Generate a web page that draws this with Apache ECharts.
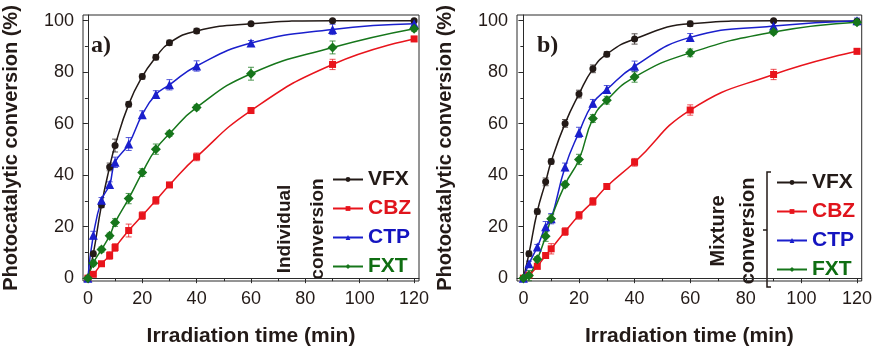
<!DOCTYPE html>
<html><head><meta charset="utf-8">
<script src="https://cdn.jsdelivr.net/npm/echarts@6/dist/echarts.min.js"></script>
<style>html,body{margin:0;padding:0;background:#fff}#c{width:875px;height:352px}</style>
</head><body><div id="c"></div>
<script>
const times = [0, 2, 5, 8, 10, 15, 20, 25, 30, 40, 60, 90, 120];
const xMajorTicks = [0, 20, 40, 60, 80, 100, 120];
const xMinorTicks = [10, 30, 50, 70, 90, 110];
const yMajorTicks = [0, 20, 40, 60, 80, 100];
const yMinorTicks = [10, 30, 50, 70, 90];
const names = ['VFX', 'CBZ', 'CTP', 'FXT'];

// Panel a) individual conversion
const vfxA = [0, 9.5, 28.4, 43.2, 51.5, 67.5, 78.3, 85.8, 91.4, 96.0, 98.8, 100, 100];
const cbzA = [0, 1.5, 5.6, 8.8, 11.9, 18.5, 24.3, 30.2, 36.2, 47.1, 65.1, 83.0, 92.9];
const ctpA = [0, 16.7, 30.3, 36.4, 45.0, 52.1, 63.5, 71.3, 75.1, 82.4, 91.3, 96.6, 98.8];
const fxtA = [0, 5.8, 11.1, 16.5, 21.6, 30.9, 41.0, 50.1, 56.1, 66.3, 79.4, 89.6, 96.9];
const vfxAErr = [0, 1, 1, 1.5, 2.5, 1, 1, 1, 1, 1, 0.5, 0.5, 0.5];
const cbzAErr = [0, 0.5, 0.5, 1.5, 1.5, 2.5, 1.5, 1.5, 1, 1.5, 1, 2, 1];
const ctpAErr = [0, 1.5, 1, 1, 2, 2.5, 1.5, 1.5, 2, 2, 1, 2, 1];
const fxtAErr = [0, 1, 1, 1, 1.5, 2, 1.5, 2, 1, 1, 2.5, 2.5, 1];

// Panel b) mixture conversion
const vfxB = [0, 9.5, 25.9, 37.4, 45.3, 60.1, 71.5, 81.3, 87.0, 92.9, 98.8, 100, 99.8];
const cbzB = [0, 1.2, 4.6, 8.8, 11.4, 18.1, 24.4, 29.8, 35.6, 45.0, 65.3, 79.1, 88.1];
const ctpB = [0, 5.6, 12.1, 20.0, 23.1, 43.2, 56.6, 67.9, 73.3, 82.3, 93.5, 97.9, 100];
const fxtB = [0, 1.0, 7.3, 16.3, 23.1, 36.4, 46.1, 62.0, 69.1, 78.1, 87.5, 95.6, 99.4];
const vfxBErr = [0, 1, 1, 1.5, 1, 1.5, 1.5, 1.5, 1, 2, 1, 0.5, 0.5];
const cbzBErr = [0, 1, 1, 1, 2, 1.5, 1.5, 1.5, 1, 1.5, 2, 2, 1];
const ctpBErr = [0, 1, 1, 2, 2, 1.5, 2, 1.5, 1.5, 2, 1.5, 1.5, 1];
const fxtBErr = [0, 2, 1, 2, 1.5, 1, 2, 1.5, 1.5, 2, 1.5, 1, 1];

const colors = {VFX: '#231a17', CBZ: '#e8141c', CTP: '#1a1fcc', FXT: '#16761b'};
const textColors = {VFX: '#231a17', CBZ: '#e0141c', CTP: '#1414c0', FXT: '#0f6e12'};
const symbols = {VFX: 'circle', CBZ: 'rect', CTP: 'triangle', FXT: 'diamond'};
const symSizes = {VFX: 7, CBZ: 7, CTP: 9, FXT: 10};

const tickFont = '"Liberation Sans Narrow", "Arial Narrow", "Liberation Sans", Arial, sans-serif';
const boldFont = '"Liberation Sans", Arial, sans-serif';

const panels = [
  {vals: [vfxA, cbzA, ctpA, fxtA], errs: [vfxAErr, cbzAErr, ctpAErr, fxtAErr], left: 76, width: 343, min: -1.8, max: 121.8},
  {vals: [vfxB, cbzB, ctpB, fxtB], errs: [vfxBErr, cbzBErr, ctpBErr, fxtBErr], left: 517, width: 345, min: -2.3, max: 121.7}
];

const grid = [], xAxis = [], yAxis = [], series = [];
panels.forEach((p, pi) => {
  grid.push({left: p.left, top: 15, width: p.width, height: 276, show: true, borderColor: '#2a2a2a', borderWidth: 1, backgroundColor: 'transparent'});
  xAxis.push({
    type: 'value', gridIndex: pi, min: p.min, max: p.max, position: 'bottom',
    name: 'Irradiation time (min)', nameLocation: 'middle', nameGap: 45,
    nameTextStyle: {fontFamily: boldFont, fontWeight: 'bold', fontSize: 21, color: '#231a17'},
    axisLine: {show: true, lineStyle: {color: '#2a2a2a', width: 1}},
    axisTick: {show: true, inside: false, length: 5, customValues: xMajorTicks, lineStyle: {color: '#2a2a2a'}},
    axisLabel: {show: true, customValues: xMajorTicks, margin: 9, fontFamily: tickFont, fontSize: 18, color: '#231a17'},
    splitLine: {show: false}
  });
  xAxis.push({
    type: 'value', gridIndex: pi, min: p.min, max: p.max, position: 'bottom',
    axisLine: {show: false},
    axisTick: {show: true, inside: false, length: 3, customValues: xMinorTicks, lineStyle: {color: '#2a2a2a'}},
    axisLabel: {show: false}, splitLine: {show: false}
  });
  yAxis.push({
    type: 'value', gridIndex: pi, min: -1.1, max: 102.2, position: 'left',
    name: 'Photocatalytic conversion (%)', nameLocation: 'middle', nameGap: 62,
    nameTextStyle: {fontFamily: boldFont, fontWeight: 'bold', fontSize: 20, color: '#231a17'},
    axisLine: {show: true, lineStyle: {color: '#2a2a2a', width: 1}},
    axisTick: {show: true, inside: false, length: 5, customValues: yMajorTicks, lineStyle: {color: '#2a2a2a'}},
    axisLabel: {show: true, customValues: yMajorTicks, margin: 9, fontFamily: tickFont, fontSize: 18, color: '#231a17'},
    splitLine: {show: false}
  });
  yAxis.push({
    type: 'value', gridIndex: pi, min: -1.1, max: 102.2, position: 'left',
    axisLine: {show: false},
    axisTick: {show: true, inside: false, length: 3, customValues: yMinorTicks, lineStyle: {color: '#2a2a2a'}},
    axisLabel: {show: false}, splitLine: {show: false}
  });
  names.forEach((n, si) => {
    const vals = p.vals[si], errs = p.errs[si];
    series.push({
      type: 'custom', name: n + ' err ' + pi, xAxisIndex: pi * 2, yAxisIndex: pi * 2, z: 2,
      data: times.map((t, i) => [t, vals[i], errs[i]]).filter(d => d[2] > 0),
      renderItem: (params, api) => {
        const x = api.value(0), y = api.value(1), e = api.value(2);
        const top = api.coord([x, y + e]), bot = api.coord([x, y - e]);
        const w = 3;
        const st = {stroke: colors[n], lineWidth: 1, opacity: 0.75};
        return {type: 'group', children: [
          {type: 'line', shape: {x1: top[0], y1: top[1], x2: bot[0], y2: bot[1]}, style: st},
          {type: 'line', shape: {x1: top[0] - w, y1: top[1], x2: top[0] + w, y2: top[1]}, style: st},
          {type: 'line', shape: {x1: bot[0] - w, y1: bot[1], x2: bot[0] + w, y2: bot[1]}, style: st}
        ]};
      }
    });
    series.push({
      type: 'line', name: n, xAxisIndex: pi * 2, yAxisIndex: pi * 2, z: 3,
      data: times.map((t, i) => [t, vals[i]]),
      smooth: 0.5,
      symbol: symbols[n], symbolSize: symSizes[n],
      lineStyle: {color: colors[n], width: 1.5},
      itemStyle: {color: colors[n]},
      animation: false
    });
  });
});

const legendData = names.map(n => ({name: n, textStyle: {color: textColors[n]}}));
const legendBase = {
  orient: 'vertical', itemWidth: 30, itemHeight: 6, itemGap: 8, padding: 0, selectedMode: false,
  textStyle: {fontFamily: boldFont, fontWeight: 'bold', fontSize: 21, lineHeight: 21}, data: legendData
};

const option = {
  backgroundColor: '#ffffff',
  animation: false,
  grid, xAxis, yAxis, series,
  legend: [
    Object.assign({}, legendBase, {left: 332, top: 169}),
    Object.assign({}, legendBase, {left: 776, top: 172})
  ],
  graphic: [
    {type: 'text', left: 91, top: 34, style: {text: 'a)', font: 'bold 24px "Liberation Serif", "Times New Roman", serif', fill: '#231a17'}},
    {type: 'text', left: 537, top: 34, style: {text: 'b)', font: 'bold 24px "Liberation Serif", "Times New Roman", serif', fill: '#231a17'}},
    {type: 'text', x: 285, y: 229, rotation: Math.PI / 2, style: {text: 'Individual', font: 'bold 19px "Liberation Sans", Arial, sans-serif', fill: '#231a17', align: 'center', verticalAlign: 'middle'}},
    {type: 'text', x: 318, y: 229, rotation: Math.PI / 2, style: {text: 'conversion', font: 'bold 19px "Liberation Sans", Arial, sans-serif', fill: '#231a17', align: 'center', verticalAlign: 'middle'}},
    {type: 'text', x: 718, y: 231, rotation: Math.PI / 2, style: {text: 'Mixture', font: 'bold 20px "Liberation Sans", Arial, sans-serif', fill: '#231a17', align: 'center', verticalAlign: 'middle'}},
    {type: 'text', x: 748, y: 231, rotation: Math.PI / 2, style: {text: 'conversion', font: 'bold 20px "Liberation Sans", Arial, sans-serif', fill: '#231a17', align: 'center', verticalAlign: 'middle'}},
    {type: 'polyline', shape: {points: [[771, 172], [767, 172], [767, 287], [771, 287]]}, style: {stroke: '#231a17', lineWidth: 1.5, fill: null}},
    {type: 'line', shape: {x1: 763, y1: 230, x2: 767, y2: 230}, style: {stroke: '#231a17', lineWidth: 1.5}}
  ]
};

const chart = echarts.init(document.getElementById('c'), null, {renderer: 'canvas'});
chart.setOption(option);
</script>
</body></html>
